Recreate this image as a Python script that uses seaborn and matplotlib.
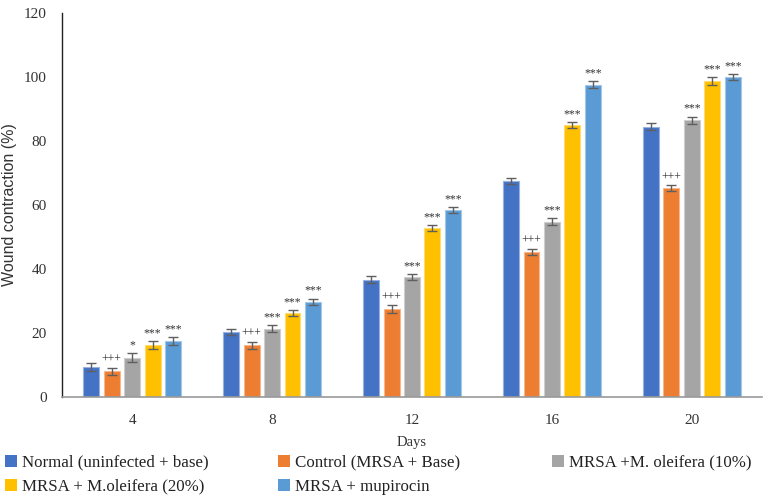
import matplotlib
matplotlib.use("Agg")
import matplotlib.pyplot as plt
import matplotlib.colors as mcolors
import seaborn as sns
import pandas as pd
import numpy as np

days = ["4", "8", "12", "16", "20"]
groups = ["Normal (uninfected + base)", "Control (MRSA + Base)", "MRSA +M. oleifera (10%)",
          "MRSA + M.oleifera (20%)", "MRSA + mupirocin"]
colors = ["#4472C4", "#ED7D31", "#A5A5A5", "#FFC000", "#5B9BD5"]

normal = [9.4, 20.3, 36.6, 67.5, 84.4]
control = [8.1, 16.2, 27.5, 45.3, 65.3]
mo10 = [12.3, 21.4, 37.5, 54.7, 86.5]
mo20 = [16.2, 26.2, 52.7, 85.0, 98.7]
mupirocin = [17.5, 29.7, 58.4, 97.6, 100.0]

err_normal = [1.2, 1.0, 1.1, 0.9, 1.1]
err_control = [1.1, 1.1, 1.1, 1.0, 0.9]
err_mo10 = [1.5, 1.0, 1.0, 1.1, 1.1]
err_mo20 = [1.3, 1.0, 0.9, 0.9, 1.3]
err_mupirocin = [1.1, 1.0, 1.0, 1.1, 0.9]

sig_normal = ["", "", "", "", ""]
sig_control = ["+++", "+++", "+++", "+++", "+++"]
sig_mo10 = ["*", "***", "***", "***", "***"]
sig_mo20 = ["***", "***", "***", "***", "***"]
sig_mupirocin = ["***", "***", "***", "***", "***"]

values = [normal, control, mo10, mo20, mupirocin]
errors = [err_normal, err_control, err_mo10, err_mo20, err_mupirocin]
sigs = [sig_normal, sig_control, sig_mo10, sig_mo20, sig_mupirocin]

rows = []
for g, vals in zip(groups, values):
    for d, v in zip(days, vals):
        rows.append({"Days": d, "Group": g, "Value": v})
df = pd.DataFrame(rows)

sns.set_theme(style="white")
plt.rcParams["font.family"] = ["Liberation Serif", "DejaVu Serif"]

fig = plt.figure(figsize=(7.68, 5.0), dpi=100)
ax = fig.add_axes([0.081, 0.206, 0.911, 0.768])

sns.barplot(data=df, x="Days", y="Value", hue="Group", order=days, hue_order=groups,
            palette=colors, saturation=1, errorbar=None, width=0.73, gap=0.22, ax=ax,
            linewidth=0.8, legend=False)

for cont, col, errs, sg in zip(ax.containers, colors, errors, sigs):
    light = mcolors.to_rgb(col)
    light = tuple(c + (1 - c) * 0.45 for c in light)
    xs, ys = [], []
    for p in cont.patches:
        p.set_edgecolor(light)
        xs.append(p.get_x() + p.get_width() / 2)
        ys.append(p.get_height())
    ax.errorbar(xs, ys, yerr=errs, fmt="none", ecolor="#5f5f5f", elinewidth=1.0,
                capsize=3.5, capthick=1.0, zorder=5)
    for x, y, e, s in zip(xs, ys, errs, sg):
        if s:
            ax.text(x, y + e + 0.6, s, ha="center", va="bottom", fontsize=8.5,
                    color="#333333", zorder=6)

ax.set_ylim(0, 120)
ax.set_xlim(-0.5, 4.5)
ax.set_yticks(range(0, 121, 20))
ax.tick_params(axis="both", length=0, labelsize=11, colors="#333333")
ax.tick_params(axis="x", pad=12)
ax.tick_params(axis="y", pad=11)
ax.set_xlabel("Days", fontsize=10.5, color="#333333", labelpad=7)
ax.set_ylabel("Wound contraction (%)", fontsize=11.5, color="#333333",
              family=["Liberation Sans", "DejaVu Sans"], labelpad=5)
sns.despine(ax=ax)
ax.spines["left"].set_color("#222222")
ax.spines["left"].set_linewidth(1.0)
ax.spines["bottom"].set_color("#999999")
ax.spines["bottom"].set_linewidth(1.2)

handles = [plt.Rectangle((0, 0), 1, 1, facecolor=c, edgecolor="none") for c in colors]
col_defs = [([0, 3], 0.002), ([1, 4], 0.358), ([2], 0.714)]
for idx, xpos in col_defs:
    leg = fig.legend([handles[i] for i in idx], [groups[i] for i in idx],
                     loc="upper left", bbox_to_anchor=(xpos, 0.097),
                     frameon=False, fontsize=12.2, handlelength=0.7, handleheight=0.7,
                     handletextpad=0.3, labelspacing=0.45, borderaxespad=0, borderpad=0.2)
    for t in leg.get_texts():
        t.set_color("#222222")

fig.savefig("out.png", dpi=100)
